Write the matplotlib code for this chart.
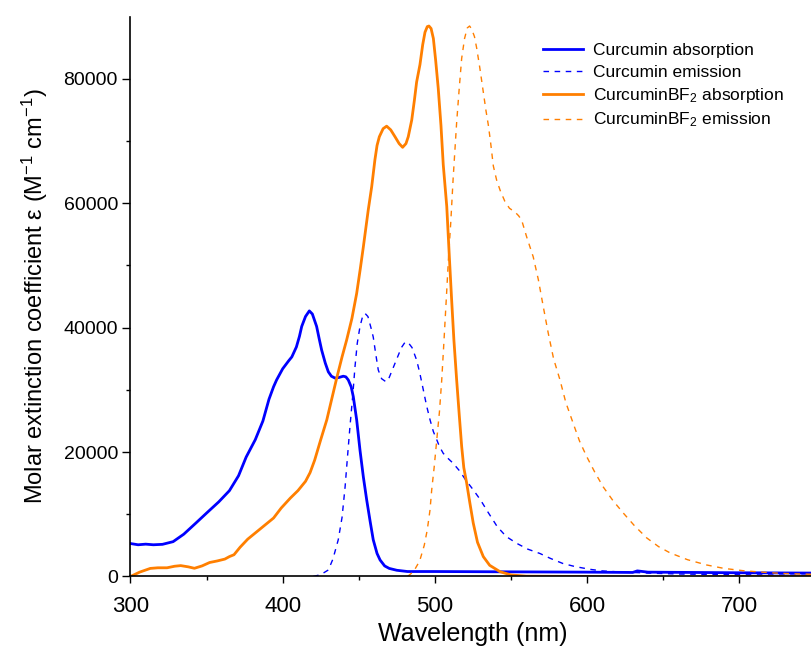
import numpy as np
import matplotlib
matplotlib.use("Agg")
import matplotlib.pyplot as plt

plt.rcParams["font.family"] = ["Liberation Sans", "DejaVu Sans"]
plt.rcParams["mathtext.fontset"] = "custom"
plt.rcParams["mathtext.rm"] = "Liberation Sans"
plt.rcParams["mathtext.it"] = "Liberation Sans:italic"

# Curcumin absorption
cur_abs_wl = [300, 305, 310, 315, 321, 328, 335, 343, 350, 358, 365, 371, 376, 382, 387, 391,
              394, 396, 400, 404, 406, 409, 411, 412.5, 415, 417.5, 419.5, 422.3, 424, 425.6, 428,
              430, 432, 434.4, 437, 439.8, 441.5, 443.1, 445, 446.4, 448.6, 450.8, 453, 455.2,
              457.5, 459.5, 462, 464, 467, 470, 475, 482, 500, 550, 600, 630, 633, 640, 700, 750]
cur_abs = [5300, 5100, 5200, 5100, 5170, 5600, 6800, 8600, 10200, 12000, 13800, 16200, 19200,
           22000, 25000, 28500, 30500, 31600, 33400, 34700, 35300, 36900, 38600, 40200, 41800,
           42700, 42200, 40200, 38200, 36400, 34300, 32900, 32200, 31900, 32000, 32200, 32100,
           31600, 30500, 28900, 25200, 20300, 16000, 12300, 8800, 5900, 3700, 2650, 1700, 1300,
           1000, 800, 800, 750, 700, 650, 900, 700, 600, 550]

# Curcumin emission
cur_em_wl = [420, 425, 430, 433, 436.5, 439, 441, 442.5, 444.2, 446, 447.5, 449, 450.8, 452.5,
             454.1, 456, 458, 459.5, 461, 462.8, 465, 467.9, 470, 472.5, 475, 478, 480.5, 482.5,
             485, 488, 490, 492.4, 494.5, 496.8, 499, 501.2, 503, 505.5, 509, 512, 516.5, 520,
             525, 530, 535, 541, 547, 554, 561, 569, 576, 584, 592, 602, 610, 620, 640, 660, 690,
             720, 750]
cur_em = [0, 300, 1050, 2800, 5900, 9500, 14400, 19000, 24100, 29000, 33700, 37500, 40200,
          41800, 42300, 41800, 40000, 38500, 36000, 33200, 31800, 31300, 32000, 33500, 35000,
          36800, 37700, 37600, 36800, 34800, 32800, 30000, 27500, 25200, 23300, 22000, 20900,
          19800, 18900, 18200, 16900, 15600, 14000, 12300, 10300, 8000, 6400, 5300, 4400, 3700,
          2900, 2100, 1600, 1150, 900, 750, 550, 400, 300, 250, 200]

# CurcuminBF2 absorption
bf2_abs_wl = [300, 306, 313, 318, 324, 329, 333, 338, 342, 347, 352, 357, 362, 365, 368, 372,
              377, 383, 388, 394, 399, 405, 410, 415, 418, 421, 425, 429, 432, 435.5, 439, 442,
              445.5, 448.6, 451, 453, 456.2, 458.5, 460.6, 462, 463.5, 466, 468.3, 471, 473.8,
              476.5, 478.8, 481, 482.5, 484.8, 486.5, 488, 490.2, 492, 493.5, 495, 496.1, 497.5,
              499, 500.5, 502.2, 504, 505.5, 507.8, 509.5, 511, 512.5, 514.3, 516, 517.6, 519,
              520.9, 523, 525.2, 528, 531.8, 536, 542.8, 550, 560, 600, 650, 700, 750]
bf2_abs = [0, 700, 1300, 1400, 1400, 1650, 1750, 1550, 1320, 1700, 2250, 2500, 2800, 3200, 3500,
           4700, 6000, 7200, 8200, 9400, 11000, 12600, 13800, 15300, 16700, 18700, 22000, 25200,
           28300, 31900, 35300, 38000, 41500, 45500, 49500, 53000, 58900, 62700, 67000, 69300,
           70700, 72000, 72400, 71800, 70700, 69600, 69000, 69600, 70700, 73400, 76500, 79500,
           82300, 85500, 87500, 88400, 88500, 88100, 86500, 83000, 78500, 72500, 66200, 59500,
           51400, 44500, 38000, 31600, 26000, 20900, 17500, 15000, 11800, 8600, 5500, 3200, 1800,
           770, 250, 50, 0, -200, 0, 0]

# CurcuminBF2 emission
bf2_em_wl = [482, 486, 490, 493, 495, 496.8, 497.9, 499.5, 501.2, 503, 504.5, 506, 507.8, 509,
             510.4, 512, 514.3, 516, 517.6, 519.5, 521.3, 522.8, 524.2, 526, 527.5, 529.5, 531.8,
             533.5, 535.1, 536.5, 538.4, 540.6, 543, 546, 549, 552.6, 555, 557, 560.3, 564.6,
             568, 571.2, 574.5, 578, 582.2, 586, 590.9, 595, 599.7, 605, 610.6, 617, 623.8, 631,
             639.2, 647, 654.5, 666, 678.6, 690, 702.6, 715, 726.7, 740, 750]
bf2_em = [0, 800, 2500, 5000, 7500, 10700, 13900, 17500, 21900, 26500, 31600, 38000, 46000,
          51500, 56800, 64000, 73000, 78500, 83300, 86500, 88200, 88500, 88000, 86800, 84900,
          81800, 77900, 75000, 72600, 70000, 66000, 63700, 62000, 60300, 59200, 58600, 58000,
          57300, 54600, 51400, 47700, 43400, 39100, 35000, 31600, 28000, 24600, 21800, 19300,
          16800, 14400, 12200, 10200, 8200, 6200, 4800, 3800, 2700, 1850, 1300, 930, 700, 510,
          400, 350]

blue = "#0000FF"
orange = "#FF7F00"

fig = plt.figure(figsize=(8.11, 6.52), dpi=100)
ax = fig.add_axes([0.1609, 0.1158, 0.8445, 0.8586])

ax.plot(cur_abs_wl, cur_abs, color=blue, lw=2, label="Curcumin absorption")
ax.plot(cur_em_wl, cur_em, color=blue, lw=1, dashes=(4, 4), label="Curcumin emission")
ax.plot(bf2_abs_wl, bf2_abs, color=orange, lw=2, label=r"CurcuminBF$_\mathregular{2}$ absorption")
ax.plot(bf2_em_wl, bf2_em, color=orange, lw=1, dashes=(4, 4), label=r"CurcuminBF$_\mathregular{2}$ emission")

ax.set_xlim(300, 750)
ax.set_ylim(0, 90000)
ax.set_xticks([300, 400, 500, 600, 700])
ax.set_xticks(np.arange(350, 751, 100), minor=True)
ax.set_yticks([0, 20000, 40000, 60000, 80000])
ax.set_yticks([10000, 30000, 50000, 70000], minor=True)
ax.tick_params(axis="x", which="major", direction="out", length=5, width=1, labelsize=16, pad=9)
ax.tick_params(axis="y", which="major", direction="out", length=6, width=1, labelsize=14, pad=3)
ax.tick_params(which="minor", direction="out", length=3, width=1)

for s in ["top", "right"]:
    ax.spines[s].set_visible(False)
for s in ["left", "bottom"]:
    ax.spines[s].set_linewidth(1.2)

ax.set_xlabel("Wavelength (nm)", fontsize=18, labelpad=4)
ax.set_ylabel(r"Molar extinction coefficient ε (M$^\mathregular{-1}$ cm$^\mathregular{-1}$)",
              fontsize=17, labelpad=10)

ax.legend(loc="upper left", bbox_to_anchor=(0.592, 0.965), frameon=False, fontsize=12.5,
          handlelength=2.3, handletextpad=0.6, labelspacing=0.35, borderaxespad=0)

plt.savefig("out.png", dpi=100)
